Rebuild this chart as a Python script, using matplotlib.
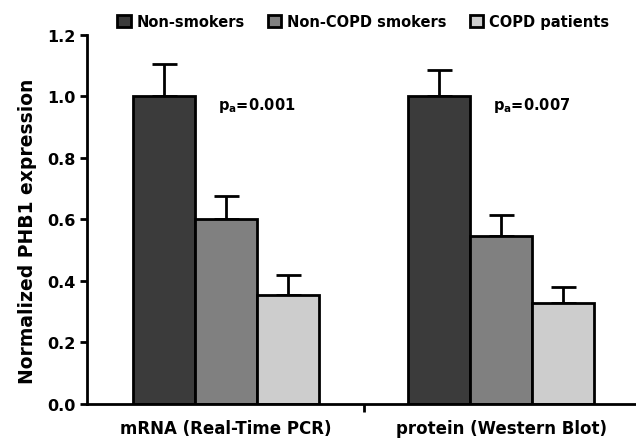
import numpy as np
import matplotlib
matplotlib.use("Agg")
from matplotlib import pyplot as plt

groups = ["mRNA (Real-Time PCR)", "protein (Western Blot)"]
series = ["Non-smokers", "Non-COPD smokers", "COPD patients"]
means = {
    "Non-smokers": [1.00, 1.00],
    "Non-COPD smokers": [0.60, 0.545],
    "COPD patients": [0.355, 0.327],
}
errs = {
    "Non-smokers": [0.105, 0.085],
    "Non-COPD smokers": [0.075, 0.07],
    "COPD patients": [0.065, 0.053],
}
p_labels = ["0.001", "0.007"]
colors = ["#3b3b3b", "#808080", "#cdcdcd"]

plt.rcParams['font.family'] = ['DejaVu Sans']
plt.rcParams['font.weight'] = 'bold'

fig = plt.figure(figsize=(6.36, 4.39), dpi=100)
ax = fig.add_axes([0.137, 0.0775, 0.863, 0.8405])

x = np.arange(len(groups))
w = 0.225
for i, s in enumerate(series):
    ax.bar(x + (i - 1) * w, means[s], w, color=colors[i], edgecolor="black",
           linewidth=2, label=s, zorder=2)
    ax.errorbar(x + (i - 1) * w, means[s], yerr=[np.zeros(2), errs[s]], fmt="none",
                ecolor="black", elinewidth=2, capsize=9, capthick=2, zorder=1)

for k, p in enumerate(p_labels):
    ax.text(x[k] - 0.03, 0.975, r"p$_\mathbf{a}$=" + p, fontsize=10.5,
            fontweight="bold", va="center", ha="left")

ax.set_xlim(-0.505, 1.49)
ax.set_ylim(0, 1.2)
ax.set_yticks(np.arange(0, 1.21, 0.2))
ax.set_yticklabels([f"{v:.1f}" for v in np.arange(0, 1.21, 0.2)], fontsize=11.5,
                   fontweight="bold")
ax.set_xticks(x)
ax.set_xticklabels(groups, fontsize=12, fontweight="bold")
ax.set_xticks([0.5], minor=True)
ax.tick_params(axis="x", which="major", length=0, pad=11)
ax.tick_params(axis="x", which="minor", length=6, width=2)
ax.tick_params(axis="y", length=5, width=2, pad=3)
ax.spines["top"].set_visible(False)
ax.spines["right"].set_visible(False)
ax.spines["left"].set_linewidth(2)
ax.spines["bottom"].set_linewidth(2)
ax.set_ylabel("Normalized PHB1 expression", fontsize=13.5, fontweight="bold")
ax.yaxis.set_label_coords(-0.092, 0.47)

h, l = ax.get_legend_handles_labels()
fig.legend(h, l, loc="center", bbox_to_anchor=(0.571, 0.948), ncol=3, frameon=False,
           handlelength=0.9, handleheight=0.9, handletextpad=0.4,
           columnspacing=1.6, prop={"weight": "bold", "size": 10.5})

fig.savefig("out.png", dpi=100)
